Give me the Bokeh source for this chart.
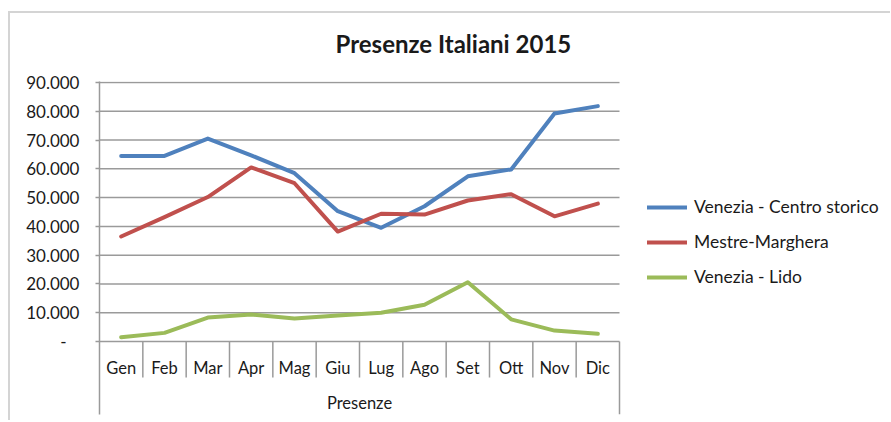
from bokeh.plotting import figure
from bokeh.models import Range1d, FixedTicker, Legend, LegendItem, ColumnDataSource
from bokeh.core.properties import value
from bokeh.embed import file_html
from bokeh.resources import INLINE

# ---- data ----
months = ["Gen", "Feb", "Mar", "Apr", "Mag", "Giu", "Lug", "Ago", "Set", "Ott", "Nov", "Dic"]
centro_storico = [64500, 64500, 70500, 64700, 58500, 45300, 39500, 47000, 57400, 59800, 79200, 81800]
mestre_marghera = [36500, 43200, 50200, 60500, 55000, 38200, 44400, 44100, 49000, 51200, 43500, 47900]
lido = [1500, 3000, 8300, 9400, 8000, 9000, 10000, 12800, 20600, 7700, 3800, 2700]
y_ticks = [0, 10000, 20000, 30000, 40000, 50000, 60000, 70000, 80000, 90000]
y_tick_labels = ["-\u00a0\u00a0\u00a0", "10.000", "20.000", "30.000", "40.000", "50.000",
                 "60.000", "70.000", "80.000", "90.000"]
series_names = ["Venezia - Centro storico", "Mestre-Marghera", "Venezia - Lido"]
series_colors = ["#4F81BD", "#C0504D", "#9BBB59"]
title_text = "Presenze Italiani 2015"
axis_title = "Presenze"

FONT = "Lato"
TEXT_COLOR = "#1a1a1a"
GRID_COLOR = "#9a9a9a"
FRAME_COLOR = "#d4d4d4"

# ---- geometry (pixels, canvas coords) ----
W, H = 890, 420
frame_left = 99
frame_top, frame_bottom = 81, 414
px_per_10k = 259 / 9.0                     # 90.000 spans 259 px
zero_from_bottom = 73                      # px from frame bottom to value 0
cat_px = 520 / 12.0

y_end = 90000 + (frame_bottom - frame_top - zero_from_bottom - 259) * 10000 / px_per_10k
y_start = -zero_from_bottom * 10000 / px_per_10k
x_end = (W - frame_left) / cat_px

def px_to_val(px):
    return px * 10000 / px_per_10k

p = figure(width=W, height=H, output_backend="svg", toolbar_location=None,
           x_range=Range1d(0, x_end), y_range=Range1d(y_start, y_end),
           min_border_left=frame_left, min_border_right=0,
           min_border_top=frame_top, min_border_bottom=H - frame_bottom,
           x_axis_location=None)
p.outline_line_color = None
p.background_fill_color = "white"
p.border_fill_alpha = 0
p.xgrid.visible = False
p.ygrid.visible = False

# light outer chart frame (top and left edges)
p.styles = {
    "background-color": "white",
    "background-image": f"linear-gradient({FRAME_COLOR},{FRAME_COLOR}), linear-gradient({FRAME_COLOR},{FRAME_COLOR})",
    "background-size": "100% 2px, 2px 100%",
    "background-position": "8px 11px, 8px 11px",
    "background-repeat": "no-repeat",
}

# title
p.title.text = title_text
p.title.align = "left"
p.title.offset = 236
p.title.standoff = 47
p.title.text_font = FONT
p.title.text_font_size = "24px"
p.title.text_font_style = "bold"
p.title.text_color = TEXT_COLOR

# y axis
yax = p.yaxis[0]
yax.ticker = FixedTicker(ticks=y_ticks, minor_ticks=[])
yax.major_label_overrides = {t: l for t, l in zip(y_ticks, y_tick_labels)}
yax.major_label_text_font = FONT
yax.major_label_text_font_size = "17px"
yax.major_label_text_color = TEXT_COLOR
yax.major_tick_out = 4
yax.major_tick_in = 0
yax.major_tick_line_color = GRID_COLOR
yax.major_tick_line_width = 1.5
yax.axis_line_color = GRID_COLOR
yax.axis_line_width = 1.5
yax.major_label_standoff = 16

n = len(months)
# horizontal gridlines across the category area
p.segment(x0=[0] * len(y_ticks), y0=y_ticks, x1=[n] * len(y_ticks), y1=y_ticks,
          line_color=GRID_COLOR, line_width=1.5)

# category axis (drawn inside extended frame below value 0)
xc = [i + 0.5 for i in range(n)]
sep_len = px_to_val(36)
seps = list(range(1, n))
p.segment(x0=seps, y0=[0] * len(seps), x1=seps, y1=[-sep_len] * len(seps),
          line_color=GRID_COLOR, line_width=1.5)
p.segment(x0=[n], y0=[0], x1=[n], y1=[y_start],
          line_color=GRID_COLOR, line_width=1.5)
p.text(x=xc, y=[0] * n, text=months, y_offset=26,
       text_font=value(FONT), text_font_size="16.5px", text_color=TEXT_COLOR,
       text_align="center", text_baseline="middle")
p.text(x=[n / 2], y=[0], text=[axis_title], y_offset=61,
       text_font=value(FONT), text_font_size="16.5px", text_color=TEXT_COLOR,
       text_align="center", text_baseline="middle")

# series
renderers = []
for vals, color in zip([centro_storico, mestre_marghera, lido], series_colors):
    src = ColumnDataSource(dict(x=xc, y=vals))
    r = p.line("x", "y", source=src, line_color=color, line_width=4,
               line_join="round", line_cap="round")
    renderers.append(r)

legend = Legend(items=[LegendItem(label=nm, renderers=[r]) for nm, r in zip(series_names, renderers)],
                location=(548, 127), orientation="vertical")
legend.label_text_font = FONT
legend.label_text_font_size = "17.5px"
legend.label_text_color = TEXT_COLOR
legend.glyph_width = 40
legend.glyph_height = 20
legend.label_height = 20
legend.label_standoff = 7
legend.spacing = 14
legend.padding = 0
legend.margin = 0
legend.border_line_color = None
legend.background_fill_alpha = 0
p.add_layout(legend, "center")

open("out.html", "w").write(file_html(p, INLINE))
